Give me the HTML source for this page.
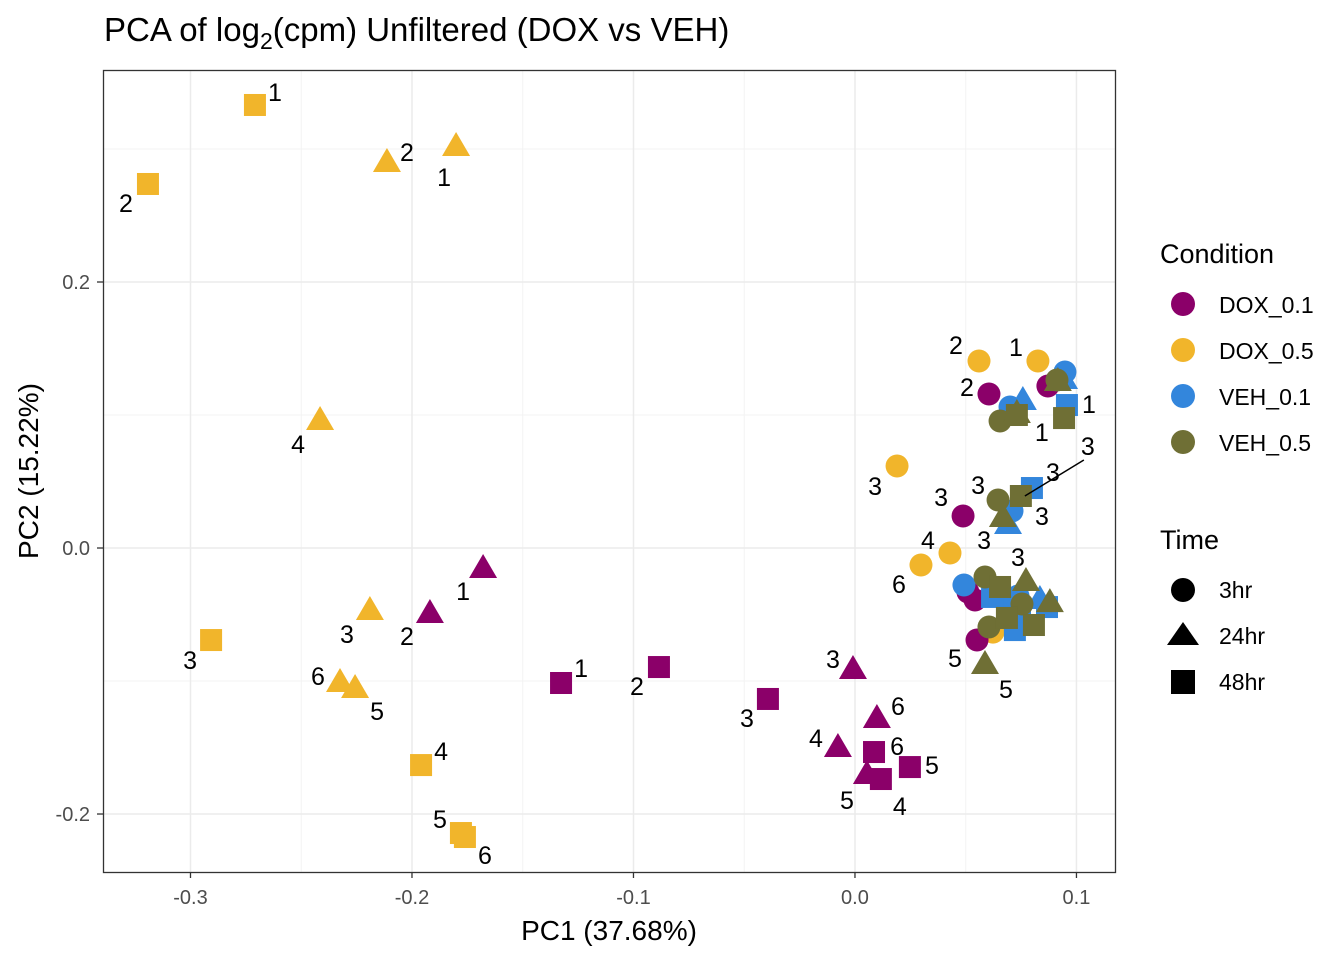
<!DOCTYPE html>
<html><head><meta charset="utf-8"><style>
body{margin:0;background:#fff}
text{font-family:"Liberation Sans",Arial,sans-serif}
</style></head><body>
<svg id="chart" width="1344" height="960" xmlns="http://www.w3.org/2000/svg">
<rect width="1344" height="960" fill="#fff"/>
<text x="104" y="41" font-size="33" fill="#000">PCA of log<tspan font-size="23" dy="8">2</tspan><tspan dy="-8">(cpm) Unfiltered (DOX vs VEH)</tspan></text>
<g id="grid"></g>
<g id="marks"></g>
<g id="labels"></g>
<rect x="103.5" y="70.5" width="1012" height="802" fill="none" stroke="#333" stroke-width="1.3"/>
<g id="axes"></g>
<text x="609" y="940" font-size="28" text-anchor="middle">PC1 (37.68%)</text>
<text transform="translate(38,471) rotate(-90)" font-size="28" text-anchor="middle">PC2 (15.22%)</text>
<g>
<text x="1160" y="263" font-size="27">Condition</text>
<circle cx="1183" cy="304" r="12" fill="#8B0069"/>
<text x="1219" y="313" font-size="23">DOX_0.1</text>
<circle cx="1183" cy="350" r="12" fill="#F1B52B"/>
<text x="1219" y="359" font-size="23">DOX_0.5</text>
<circle cx="1183" cy="396" r="12" fill="#3386DC"/>
<text x="1219" y="405" font-size="23">VEH_0.1</text>
<circle cx="1183" cy="442" r="12" fill="#6F6F35"/>
<text x="1219" y="451" font-size="23">VEH_0.5</text>
<text x="1160" y="549" font-size="27">Time</text>
<circle cx="1183" cy="590" r="12" fill="#000"/>
<text x="1219" y="598" font-size="23">3hr</text>
<polygon points="1183,622 1199,645 1167,645" fill="#000"/>
<text x="1219" y="644" font-size="23">24hr</text>
<rect x="1171" y="670" width="24" height="24" fill="#000"/>
<text x="1219" y="690" font-size="23">48hr</text>
</g>
</svg>
<script>
const xTicks=[-0.3,-0.2,-0.1,0.0,0.1];
const xTickLabels=["-0.3","-0.2","-0.1","0.0","0.1"];
const yTicks=[-0.2,0.0,0.2];
const yTickLabels=["-0.2","0.0","0.2"];
const xMinor=[-0.25,-0.15,-0.05,0.05];
const yMinor=[-0.1,0.1,0.3];
const conditions=["DOX_0.1","DOX_0.5","VEH_0.1","VEH_0.5"];
const times=["3hr","24hr","48hr"];
// DOX_0.5
const dox05_3hr_x=[0.0826,0.0560,0.0190,0.0429,0.0623,0.0298];
const dox05_3hr_y=[0.1406,0.1406,0.0617,-0.0038,-0.0632,-0.0128];
const dox05_24hr_x=[-0.1801,-0.2113,-0.2190,-0.2415,-0.2257,-0.2325];
const dox05_24hr_y=[0.3015,0.2895,-0.0474,0.0955,-0.1060,-0.1015];
const dox05_48hr_x=[-0.2709,-0.3192,-0.2907,-0.1959,-0.1779,-0.1761];
const dox05_48hr_y=[0.3331,0.2737,-0.0692,-0.1632,-0.2143,-0.2173];
// DOX_0.1
const dox01_3hr_x=[0.0871,0.0605,0.0488,0.0542,0.0551,0.0510];
const dox01_3hr_y=[0.1218,0.1158,0.0241,-0.0391,-0.0692,-0.0331];
const dox01_24hr_x=[-0.1679,-0.1919,-0.0009,-0.0077,0.0054,0.0099];
const dox01_24hr_y=[-0.0158,-0.0496,-0.0917,-0.1504,-0.1707,-0.1286];
const dox01_48hr_x=[-0.1327,-0.0885,-0.0393,0.0117,0.0248,0.0086];
const dox01_48hr_y=[-0.1015,-0.0895,-0.1135,-0.1737,-0.1647,-0.1534];
// VEH_0.1
const veh01_3hr_x=[0.0948,0.0700,0.0709,0.0492,0.0736,0.0691];
const veh01_3hr_y=[0.1323,0.1060,0.0278,-0.0278,-0.0361,-0.0436];
const veh01_24hr_x=[0.0944,0.0758,0.0691,0.0745,0.0835,0.0691];
const veh01_24hr_y=[0.1263,0.1105,0.0173,-0.0361,-0.0391,-0.0541];
const veh01_48hr_x=[0.0957,0.0799,0.0619,0.0867,0.0722,0.0745];
const veh01_48hr_y=[0.1075,0.0451,-0.0368,-0.0444,-0.0617,-0.0481];
// VEH_0.5
const veh05_3hr_x=[0.0912,0.0655,0.0646,0.0587,0.0754,0.0605];
const veh05_3hr_y=[0.1263,0.0955,0.0361,-0.0218,-0.0421,-0.0594];
const veh05_24hr_x=[0.0916,0.0731,0.0668,0.0772,0.0880,0.0587];
const veh05_24hr_y=[0.1248,0.1008,0.0226,-0.0256,-0.0414,-0.0880];
const veh05_48hr_x=[0.0944,0.0731,0.0749,0.0655,0.0686,0.0808];
const veh05_48hr_y=[0.0977,0.1000,0.0391,-0.0293,-0.0526,-0.0579];

const replicateLabels=["1","2","3","4","5","6"];
const labelOverride={"VEH_0.5|48hr|1":"1","VEH_0.1|48hr|1":"3","VEH_0.5|24hr|5":"5"};
const colors={"DOX_0.1":"#8B0069","DOX_0.5":"#F1B52B","VEH_0.1":"#3386DC","VEH_0.5":"#6F6F35"};
const off={
"DOX_0.5|3hr":[[-22,-14],[-23,-16],[-22,20],[-22,-13],null,[-22,19]],
"DOX_0.5|24hr":[[-12,30],[20,-11],[-23,23],[-22,23],[22,22],[-22,-7]],
"DOX_0.5|48hr":[[20,-13],[-22,19],[-21,20],[20,-14],[-21,-14],[20,18]],
"DOX_0.1|3hr":[null,[-22,-7],[-22,-19],null,[-22,18],null],
"DOX_0.1|24hr":[[-20,22],[-23,22],[-20,-11],[-22,-10],[-20,25],[21,-13]],
"DOX_0.1|48hr":[[20,-15],[-22,19],[-21,19],[19,27],[22,-2],[23,-6]],
"VEH_0.1|3hr":[null,null,[30,5],null,null,null],
"VEH_0.1|24hr":[null,null,[-24,15],null,null,null],
"VEH_0.1|48hr":[[22,-1],[21,-16],null,null,null,null],
"VEH_0.5|3hr":[null,null,[-20,-15],null,null,null],
"VEH_0.5|24hr":[null,null,[15,39],null,null,[21,24]],
"VEH_0.5|48hr":[null,[25,17],[67,-50],null,null,null]
};
const leader={"VEH_0.5|48hr|2":true};

const X0=103,X1=1115,Y0=70,Y1=872;
const xMin=-0.3395,xMax=0.1174,yMin=-0.2436,yMax=0.3594;
const sx=v=>X0+(v-xMin)/(xMax-xMin)*(X1-X0);
const sy=v=>Y1-(v-yMin)/(yMax-yMin)*(Y1-Y0);
const NS="http://www.w3.org/2000/svg";
function mk(tag,attrs,parent){const e=document.createElementNS(NS,tag);for(const k in attrs)e.setAttribute(k,attrs[k]);parent.appendChild(e);return e;}
const grid=document.getElementById('grid'),axes=document.getElementById('axes'),marks=document.getElementById('marks'),labels=document.getElementById('labels');
xMinor.forEach(v=>{const l=mk('line',{x1:sx(v),x2:sx(v),y1:Y0,y2:Y1,stroke:'#f3f3f3','stroke-width':1},grid);});
yMinor.forEach(v=>{const l=mk('line',{x1:X0,x2:X1,y1:sy(v),y2:sy(v),stroke:'#f3f3f3','stroke-width':1},grid);});
xTicks.forEach((v,i)=>{const x=sx(v);
 const l=mk('line',{x1:x,x2:x,y1:Y0,y2:Y1,stroke:'#ebebeb','stroke-width':1.5},grid);
 const t=mk('line',{x1:x,x2:x,y1:Y1,y2:Y1+6,stroke:'#333','stroke-width':1.3},axes);
 const tx=mk('text',{x:x,y:904,'font-size':20,fill:'#4d4d4d','text-anchor':'middle'},axes);tx.textContent=xTickLabels[i];});
yTicks.forEach((v,i)=>{const y=sy(v);
 const l=mk('line',{x1:X0,x2:X1,y1:y,y2:y,stroke:'#ebebeb','stroke-width':1.5},grid);
 const t=mk('line',{x1:X0-6,x2:X0,y1:y,y2:y,stroke:'#333','stroke-width':1.3},axes);
 const tx=mk('text',{x:90,y:y+7,'font-size':20,fill:'#4d4d4d','text-anchor':'end'},axes);tx.textContent=yTickLabels[i];});

const groups=[
["DOX_0.5","3hr",dox05_3hr_x,dox05_3hr_y],["DOX_0.5","24hr",dox05_24hr_x,dox05_24hr_y],["DOX_0.5","48hr",dox05_48hr_x,dox05_48hr_y],
["DOX_0.1","3hr",dox01_3hr_x,dox01_3hr_y],["DOX_0.1","24hr",dox01_24hr_x,dox01_24hr_y],["DOX_0.1","48hr",dox01_48hr_x,dox01_48hr_y],
["VEH_0.1","3hr",veh01_3hr_x,veh01_3hr_y],["VEH_0.1","24hr",veh01_24hr_x,veh01_24hr_y],["VEH_0.1","48hr",veh01_48hr_x,veh01_48hr_y],
["VEH_0.5","3hr",veh05_3hr_x,veh05_3hr_y],["VEH_0.5","24hr",veh05_24hr_x,veh05_24hr_y],["VEH_0.5","48hr",veh05_48hr_x,veh05_48hr_y]];
groups.forEach(([c,t,xs,ys])=>{
 const key=c+"|"+t;
 xs.forEach((xv,i)=>{
  const x=sx(xv),y=sy(ys[i]),col=colors[c];let m;
  if(t==="3hr") m=mk('circle',{cx:x,cy:y,r:11.5,fill:col},marks);
  else if(t==="24hr") m=mk('polygon',{points:`${x},${y-15} ${x+14},${y+9} ${x-14},${y+9}`,fill:col},marks);
  else m=mk('rect',{x:x-11,y:y-11,width:22,height:22,fill:col},marks);
  
  
  const o=off[key][i];
  if(o){
   if(leader[key+"|"+i]){const ln=mk('line',{x1:x+4,y1:y,x2:x+o[0]-4,y2:y+o[1]+14,stroke:'#000','stroke-width':1.5},labels);
    
    }
   const tx=mk('text',{x:x+o[0],y:y+o[1]+9,'font-size':25,'text-anchor':'middle',fill:'#000'},labels);
   tx.textContent=labelOverride[key+"|"+i]||replicateLabels[i];
   
   
  }
 });
});
</script>
</body></html>
